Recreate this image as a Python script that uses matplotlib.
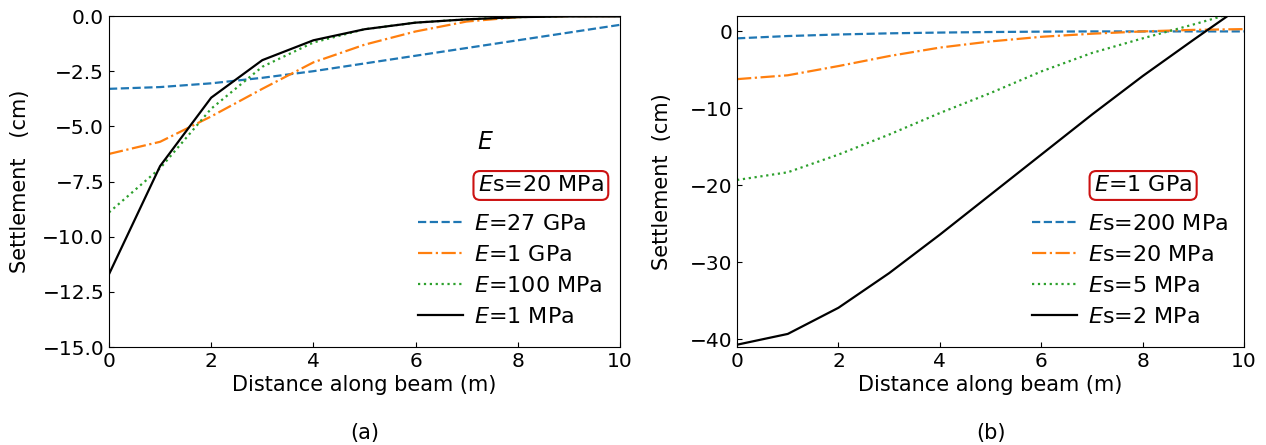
import numpy as np
import matplotlib
matplotlib.use("Agg")
import matplotlib.pyplot as plt

# distance along beam (m)
x = [0, 1, 2, 3, 4, 5, 6, 7, 8, 9, 10]

# (a) Es = 20 MPa, varying beam E
a_27gpa = [-3.3, -3.22, -3.05, -2.8, -2.5, -2.15, -1.8, -1.45, -1.1, -0.75, -0.4]
a_1gpa = [-6.25, -5.7, -4.55, -3.3, -2.1, -1.3, -0.7, -0.25, -0.05, 0.0, 0.0]
a_100mpa = [-8.9, -6.9, -4.2, -2.3, -1.2, -0.6, -0.3, -0.15, -0.05, 0.0, 0.0]
a_1mpa = [-11.7, -6.8, -3.7, -2.0, -1.1, -0.6, -0.3, -0.15, -0.05, -0.02, -0.02]
labels_a = ["$E$=27 GPa", "$E$=1 GPa", "$E$=100 MPa", "$E$=1 MPa"]

# (b) E = 1 GPa, varying soil Es
b_200mpa = [-0.9, -0.6, -0.4, -0.25, -0.15, -0.08, -0.03, 0.0, 0.0, 0.0, 0.0]
b_20mpa = [-6.2, -5.7, -4.5, -3.2, -2.1, -1.3, -0.7, -0.3, 0.0, 0.2, 0.3]
b_5mpa = [-19.3, -18.3, -16.0, -13.4, -10.6, -8.0, -5.2, -2.8, -0.9, 0.9, 2.8]
b_2mpa = [-40.7, -39.3, -35.9, -31.4, -26.4, -21.2, -16.0, -10.8, -5.8, -1.1, 3.5]
labels_b = ["$E$s=200 MPa", "$E$s=20 MPa", "$E$s=5 MPa", "$E$s=2 MPa"]

styles = [dict(color="#1f77b4", ls="--"),
          dict(color="#ff7f0e", ls="-."),
          dict(color="#2ca02c", ls=":"),
          dict(color="black", ls="-")]

fs = 16      # legend
fl = 15      # axis labels
ft = 14.5    # ticks
plt.rcParams['font.family'] = ['DejaVu Sans']
fig = plt.figure(figsize=(12.66, 4.45), dpi=100)
ax1 = fig.add_axes([0.0861, 0.2202, 0.4036, 0.7438])
ax2 = fig.add_axes([0.5822, 0.2202, 0.4005, 0.7438])

box = dict(boxstyle="round,pad=0.2,rounding_size=0.3", fc="white", ec="#cc1111", lw=1.5)
leg_kw = dict(loc="lower left", frameon=False, fontsize=fs, handlelength=2.0,
              labelspacing=0.5, borderpad=0, handletextpad=0.5, borderaxespad=0)

for ys, st, lb in zip([a_27gpa, a_1gpa, a_100mpa, a_1mpa], styles, labels_a):
    ax1.plot(x, ys, label=lb, lw=1.6, **st)
ax1.set_xlim(0, 10)
ax1.set_ylim(-15, 0)
ax1.set_yticks([0, -2.5, -5, -7.5, -10, -12.5, -15])
ax1.legend(bbox_to_anchor=(0.605, 0.06), **leg_kw)
ax1.text(0.72, 0.619, "$E$", transform=ax1.transAxes, fontsize=fs + 1, va="center")
ax1.text(0.722, 0.488, "$E$s=20 MPa", transform=ax1.transAxes, fontsize=fs, va="center", bbox=box)
ax1.set_ylabel("Settlement   (cm)", fontsize=fl, labelpad=9)
ax1.set_xlabel("Distance along beam (m)", fontsize=fl, labelpad=3)

for ys, st, lb in zip([b_200mpa, b_20mpa, b_5mpa, b_2mpa], styles, labels_b):
    ax2.plot(x, ys, label=lb, lw=1.6, **st)
ax2.set_xlim(0, 10)
ax2.set_ylim(-41, 2)
ax2.set_yticks([0, -10, -20, -30, -40])
ax2.legend(bbox_to_anchor=(0.582, 0.06), **leg_kw)
ax2.text(0.704, 0.488, "$E$=1 GPa", transform=ax2.transAxes, fontsize=fs, va="center", bbox=box)
ax2.set_ylabel("Settlement  (cm)", fontsize=fl, labelpad=13)
ax2.set_xlabel("Distance along beam (m)", fontsize=fl, labelpad=3)

for ax in (ax1, ax2):
    ax.tick_params(direction="in", labelsize=ft)
    ax.set_xticks([0, 2, 4, 6, 8, 10])

fig.text(0.2879, 0.014, "(a)", ha="center", fontsize=fl)
fig.text(0.7824, 0.014, "(b)", ha="center", fontsize=fl)

fig.savefig("out.png", dpi=100)
